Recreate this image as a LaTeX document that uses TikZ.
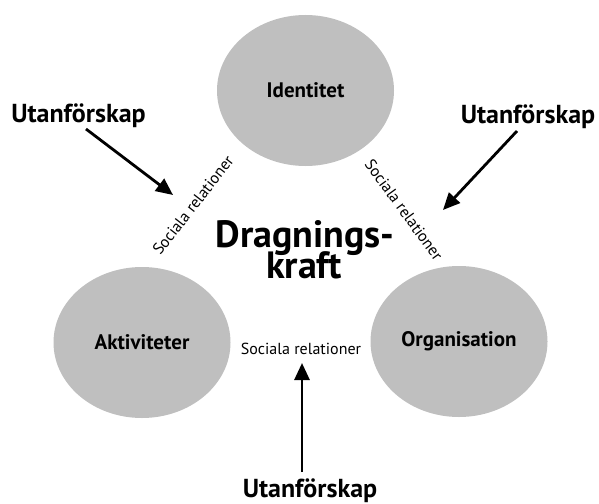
\documentclass[tikz,border=0pt]{standalone}
\usepackage{fontspec}
\setmainfont{PT Sans}
\usetikzlibrary{shapes.geometric,arrows.meta}
\tikzset{
  circ/.style={ellipse, fill=gray!50!white, draw=none, minimum width=177pt, minimum height=151pt, inner sep=0pt, font=\bfseries\fontsize{21}{21}\selectfont},
  outer/.style={font=\bfseries\fontsize{26}{26}\selectfont, inner sep=0pt, anchor=base},
  soc/.style={font=\fontsize{16}{16}\selectfont, inner sep=0pt},
  big/.style={font=\bfseries\fontsize{38}{38}\selectfont, inner sep=0pt, anchor=base},
  push/.style={line width=2.8pt, -{Triangle[length=17pt,width=15pt]}}
}
\begin{document}
\begin{tikzpicture}[x=1pt,y=-1pt]
\useasboundingbox (0,0) rectangle (599,503);
\node[circ] (id) at (305.5,90.5) {Identitet};
\node[circ] (akt) at (142,342.5) {Aktiviteter};
\node[circ] (org) at (459,341.5) {Organisation};
\node[soc, rotate=52] (srl) at (193,205) {Sociala relationer};
\node[soc, rotate=-54] (srr) at (404,210) {Sociala relationer};
\node[soc] (srb) at (301,349) {Sociala relationer};
\node[big] (drag) at (305,247) {Dragnings-};
\node[big] (kraft) at (304,278) {kraft};
\node[outer] (ul) at (78.5,122) {Utanförskap};
\node[outer] (ur) at (528,123) {Utanförskap};
\node[outer] (ub) at (310,497) {Utanförskap};
\coordinate (tl) at (173,195);
\coordinate (tr) at (443,210);
\coordinate (tb) at (302,363);
\coordinate (sl) at (86,129);
\coordinate (sr) at (517,131);
\coordinate (sb) at (302,472);
\draw[push] (sl) -- (tl);
\draw[push] (sr) -- (tr);
\draw[push] (sb) -- (tb);
\end{tikzpicture}
\end{document}
